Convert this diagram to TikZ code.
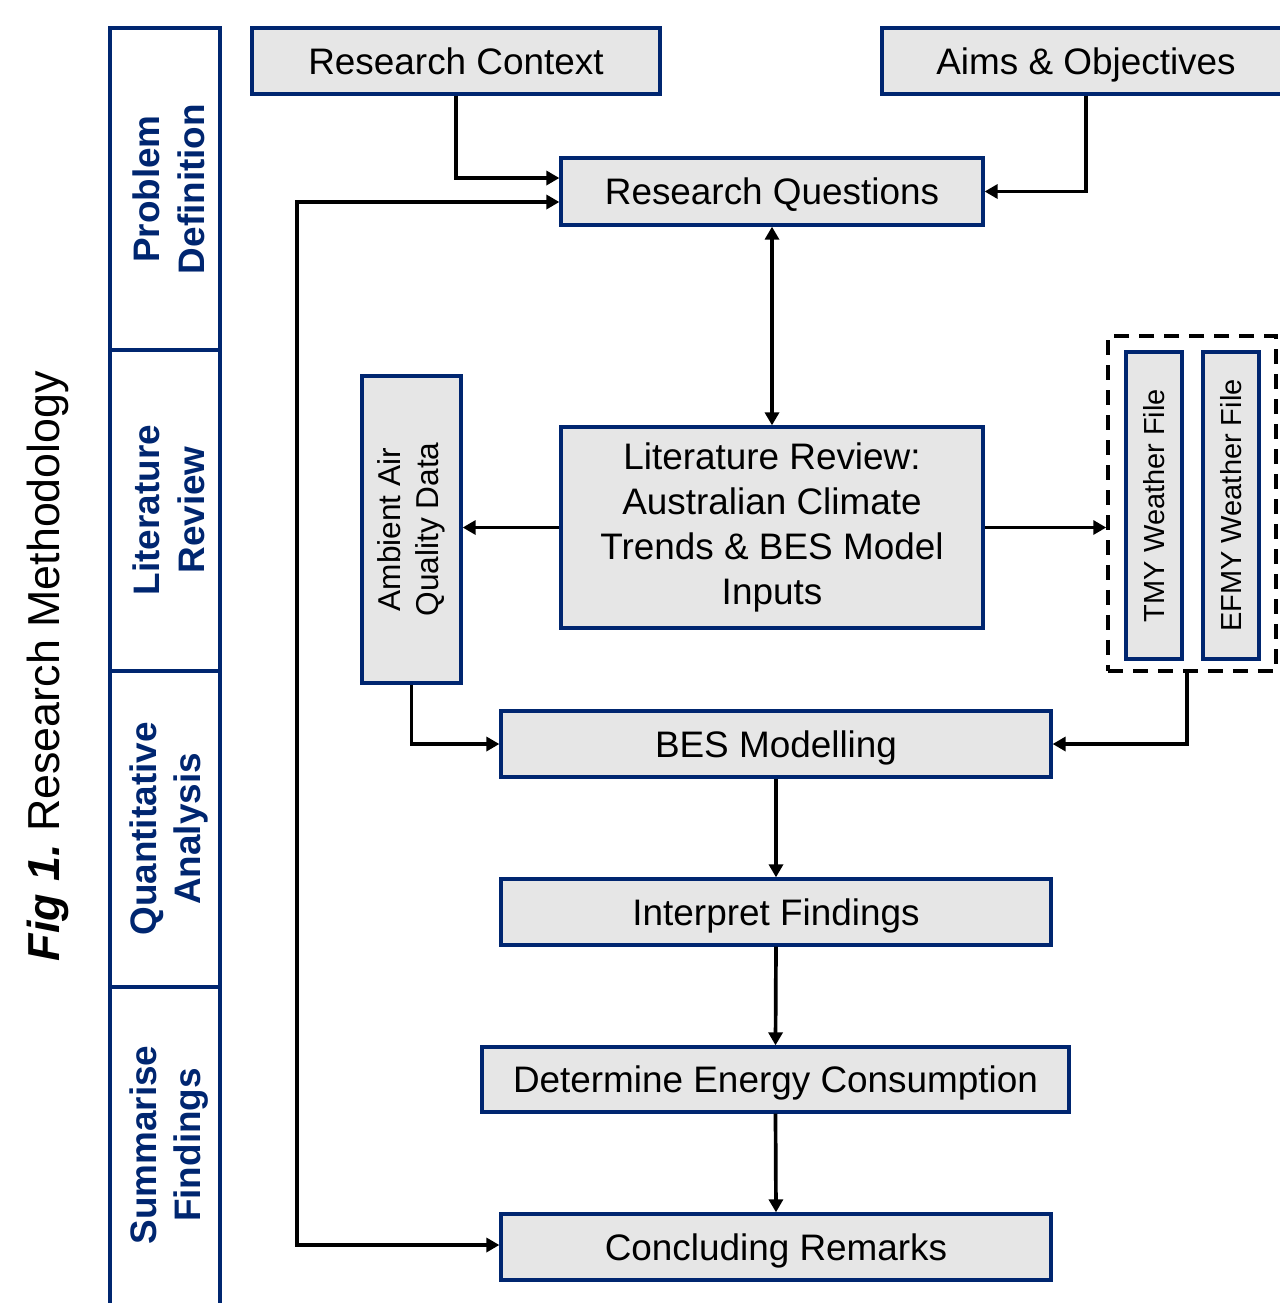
\documentclass[tikz,border=0pt]{standalone}
\usepackage{fontspec}
\setmainfont{Liberation Sans}
\usepackage{tikz}
\usetikzlibrary{arrows.meta,positioning,calc}
\definecolor{navyblue}{RGB}{0,38,112}
\definecolor{boxgray}{RGB}{230,230,230}

\begin{document}
\begin{tikzpicture}[x=0.02cm, y=-0.02cm,
  box/.style={draw=navyblue, fill=boxgray, line width=1.9pt, inner sep=0pt, align=center,
    font=\fontsize{21}{25.5}\selectfont},
  oneline/.style={box, text height=15.2pt, text depth=0pt, minimum height=13.2mm},
  phase/.style={rotate=90, text=navyblue, align=center, font=\fontsize{21}{25.5}\selectfont\bfseries},
  link/.style={line width=2.1pt, -{Triangle[length=2.6mm,width=2.8mm]}},
  dlink/.style={line width=2.1pt, {Triangle[length=2.6mm,width=2.8mm]}-{Triangle[length=2.6mm,width=2.8mm]}}]
  \useasboundingbox (0,0) rectangle (1280,1303);
  % title and phase column on the left
  \node[rotate=90, font=\fontsize{25.5}{30}\selectfont] (title) at (48,666) {\bfseries\itshape Fig 1.\ \normalfont Research Methodology};
  \draw[navyblue, line width=1.9pt] (110,1320) -- (110,28) -- (220,28) -- (220,1320);
  \foreach \y in {350,671,987}
    \draw[navyblue, line width=1.9pt] (110,\y) -- (220,\y);
  \node[phase] (pd) at (169,189) {Problem\\Definition};
  \node[phase] (lr) at (169,510) {Literature\\Review};
  \node[phase] (qa) at (169,829) {Quantitative\\Analysis};
  \node[phase] (sf) at (169,1145) {Summarise\\Findings};
  % process boxes
  \node[oneline, minimum width=81.6mm] (rc) at (456,61) {Research Context};
  \node[oneline, minimum width=81.6mm] (ao) at (1086,61) {Aims \& Objectives};
  \node[oneline, minimum width=84.4mm, minimum height=13.4mm] (rq) at (772,191.5) {Research Questions};
  \node[box, minimum width=84.4mm, minimum height=40.2mm] (lit) at (772,527.5)
    {Literature Review:\\Australian Climate\\Trends \& BES Model\\Inputs};
  \node[box, rotate=90, minimum width=61.4mm, minimum height=19.8mm,
    font=\fontsize{18}{21.5}\selectfont] (amb) at (411.5,529.5) {Ambient Air\\Quality Data};
  \node[box, rotate=90, minimum width=61.4mm, minimum height=11.2mm,
    font=\fontsize{16.5}{20}\selectfont] (tmy) at (1154,505.5) {TMY Weather File};
  \node[box, rotate=90, minimum width=61.4mm, minimum height=11.2mm,
    font=\fontsize{16.5}{20}\selectfont] (efmy) at (1231,505.5) {EFMY Weather File};
  \node[draw, line width=2pt, dash pattern=on 3mm off 2mm, minimum width=33.6mm,
    minimum height=67mm, inner sep=0pt] (wf) at (1192,503.5) {};
  \node[oneline, minimum width=110mm] (bes) at (776,744) {BES Modelling};
  \node[oneline, minimum width=110mm] (int) at (776,912) {Interpret Findings};
  \node[oneline, minimum width=117.4mm, minimum height=13mm] (dec) at (775.5,1079.5) {Determine Energy Consumption};
  \node[oneline, minimum width=110mm] (cr) at (776,1247) {Concluding Remarks};
  \coordinate (fb) at (297,1245);
  % connectors
  \draw[link] (rc.south) |- ([yshift=2.7mm]rq.west);
  \draw[link] (ao.south) |- (rq.east);
  \draw[dlink] ([yshift=-2.1mm]rq.west) -| (fb) -- (fb -| cr.west);
  \draw[dlink] (rq.south) -- (lit.north);
  \draw[link] (lit.west) -- (lit.west -| amb.south);
  \draw[link] (lit.east) -- (lit.east -| wf.west);
  \draw[link] (amb.west) |- (bes.west);
  \draw[link] ([xshift=-1mm]wf.south) |- (bes.east);
  \draw[link] (bes.south) -- (int.north);
  \draw[link] (int.south) -- (dec.north);
  \draw[link] (dec.south) -- (cr.north);
\end{tikzpicture}
\end{document}
